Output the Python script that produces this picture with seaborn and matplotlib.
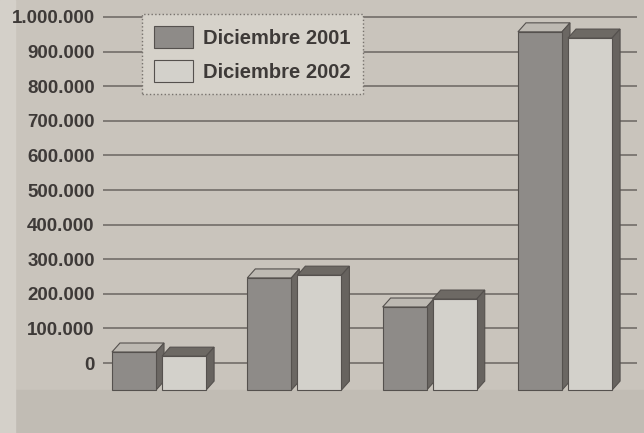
import pandas as pd
import matplotlib.pyplot as plt
import seaborn as sns
from matplotlib.patches import Polygon, Rectangle

# data (front face heights)
groups = ['Grupo 1', 'Grupo 2', 'Grupo 3', 'Grupo 4']
series = ['Diciembre 2001', 'Diciembre 2002']
dic_2001 = [110000, 324000, 240000, 1035000]
dic_2002 = [98000, 332000, 263000, 1017000]
tick_values = [0, 100000, 200000, 300000, 400000, 500000,
               600000, 700000, 800000, 900000, 1000000]
tick_labels = ['0', '100.000', '200.000', '300.000', '400.000', '500.000',
               '600.000', '700.000', '800.000', '900.000', '1.000.000']

df = pd.DataFrame({
    'grupo': groups * 2,
    'serie': [series[0]] * 4 + [series[1]] * 4,
    'valor': dic_2001 + dic_2002,
})

# look of the scanned 3D chart
paper = '#c9c4bc'
floor_band = '#c1bcb4'
left_strip = '#d4d0c9'
ink = '#3e3a38'
grid_col = '#726d69'
face = {series[0]: '#8f8b87', series[1]: '#d5d1c9'}
top = {series[0]: '#bdb9b2', series[1]: '#6d6964'}
side = {series[0]: '#6b6763', series[1]: '#67635f'}

W, H = 644, 433
wall_offset = 78000     # back wall sits this far above the bar floor
dx_px, dy_px = 8, 9     # depth of the bars in pixels

sns.set_style('white')
plt.rcParams['font.family'] = ['Liberation Sans', 'DejaVu Sans']

fig = plt.figure(figsize=(W / 100, H / 100), dpi=100)
fig.patch.set_facecolor(paper)
fig.patches.append(Rectangle((0, 0), 1, 43 / H, transform=fig.transFigure,
                             color=floor_band, zorder=-10))
fig.patches.append(Rectangle((0, 0), 15 / W, 1, transform=fig.transFigure,
                             color=left_strip, zorder=-9))

ax = fig.add_axes([103 / W, 0, (637 - 103) / W, 1])
ax.set_facecolor('none')

sns.barplot(data=df, x='grupo', y='valor', hue='serie', hue_order=series,
            palette=face, width=0.74, gap=0.12, edgecolor='#55514e',
            linewidth=0.8, errorbar=None, ax=ax, zorder=3)

ax.set_xlim(-0.414, 3.532)
ax.set_ylim(-124000, 1127000)

# fake 3D: top and right side faces from each bar's geometry
px_x = (637 - 103) / (3.532 + 0.414)
px_y = H / (1127000 + 124000)
dx = dx_px / px_x
dy = dy_px / px_y
bars = [p for p in ax.patches if p.get_height() > 0]
bars.sort(key=lambda p: p.get_x())
for i, p in enumerate(bars):
    x0, w, h = p.get_x(), p.get_width(), p.get_height()
    s = series[0] if p.get_facecolor()[0] < 0.7 else series[1]
    z = 3 + i * 0.1
    p.set_zorder(z + 0.05)
    ax.add_patch(Polygon([(x0, h), (x0 + w, h), (x0 + w + dx, h + dy), (x0 + dx, h + dy)],
                         facecolor=top[s], edgecolor='#55514e', lw=0.8, zorder=z))
    ax.add_patch(Polygon([(x0 + w, 0), (x0 + w + dx, dy), (x0 + w + dx, h + dy), (x0 + w, h)],
                         facecolor=side[s], edgecolor='#55514e', lw=0.8, zorder=z))

# back wall gridlines and labels
ax.set_yticks([t + wall_offset for t in tick_values])
ax.set_yticklabels(tick_labels)
ax.yaxis.grid(True, color=grid_col, lw=1.2)
ax.set_axisbelow(True)
ax.tick_params(axis='y', length=0, pad=6, labelsize=13.5, labelcolor=ink)
for lab in ax.get_yticklabels():
    lab.set_fontweight('bold')
ax.set_xticks([])
ax.set_xlabel('')
ax.set_ylabel('')
sns.despine(ax=ax, left=True, bottom=True)

leg = ax.legend(loc='upper left', bbox_to_anchor=(142 / W, 1 - 14 / H),
                bbox_transform=fig.transFigure, borderaxespad=0,
                fontsize=14.5, frameon=True, fancybox=False,
                handlelength=1.95, handleheight=1.3, handletextpad=0.5,
                labelspacing=0.6, borderpad=0.6)
for t in leg.get_texts():
    t.set_fontweight('bold')
    t.set_color(ink)
for hnd in leg.legend_handles:
    hnd.set_edgecolor('#55514e')
    hnd.set_linewidth(0.8)
frame = leg.get_frame()
frame.set_facecolor('#d6d2ca')
frame.set_edgecolor('#77726d')
frame.set_linestyle(':')
frame.set_linewidth(1.0)
frame.set_alpha(1)

fig.savefig('out.png', dpi=100, facecolor=fig.get_facecolor())
